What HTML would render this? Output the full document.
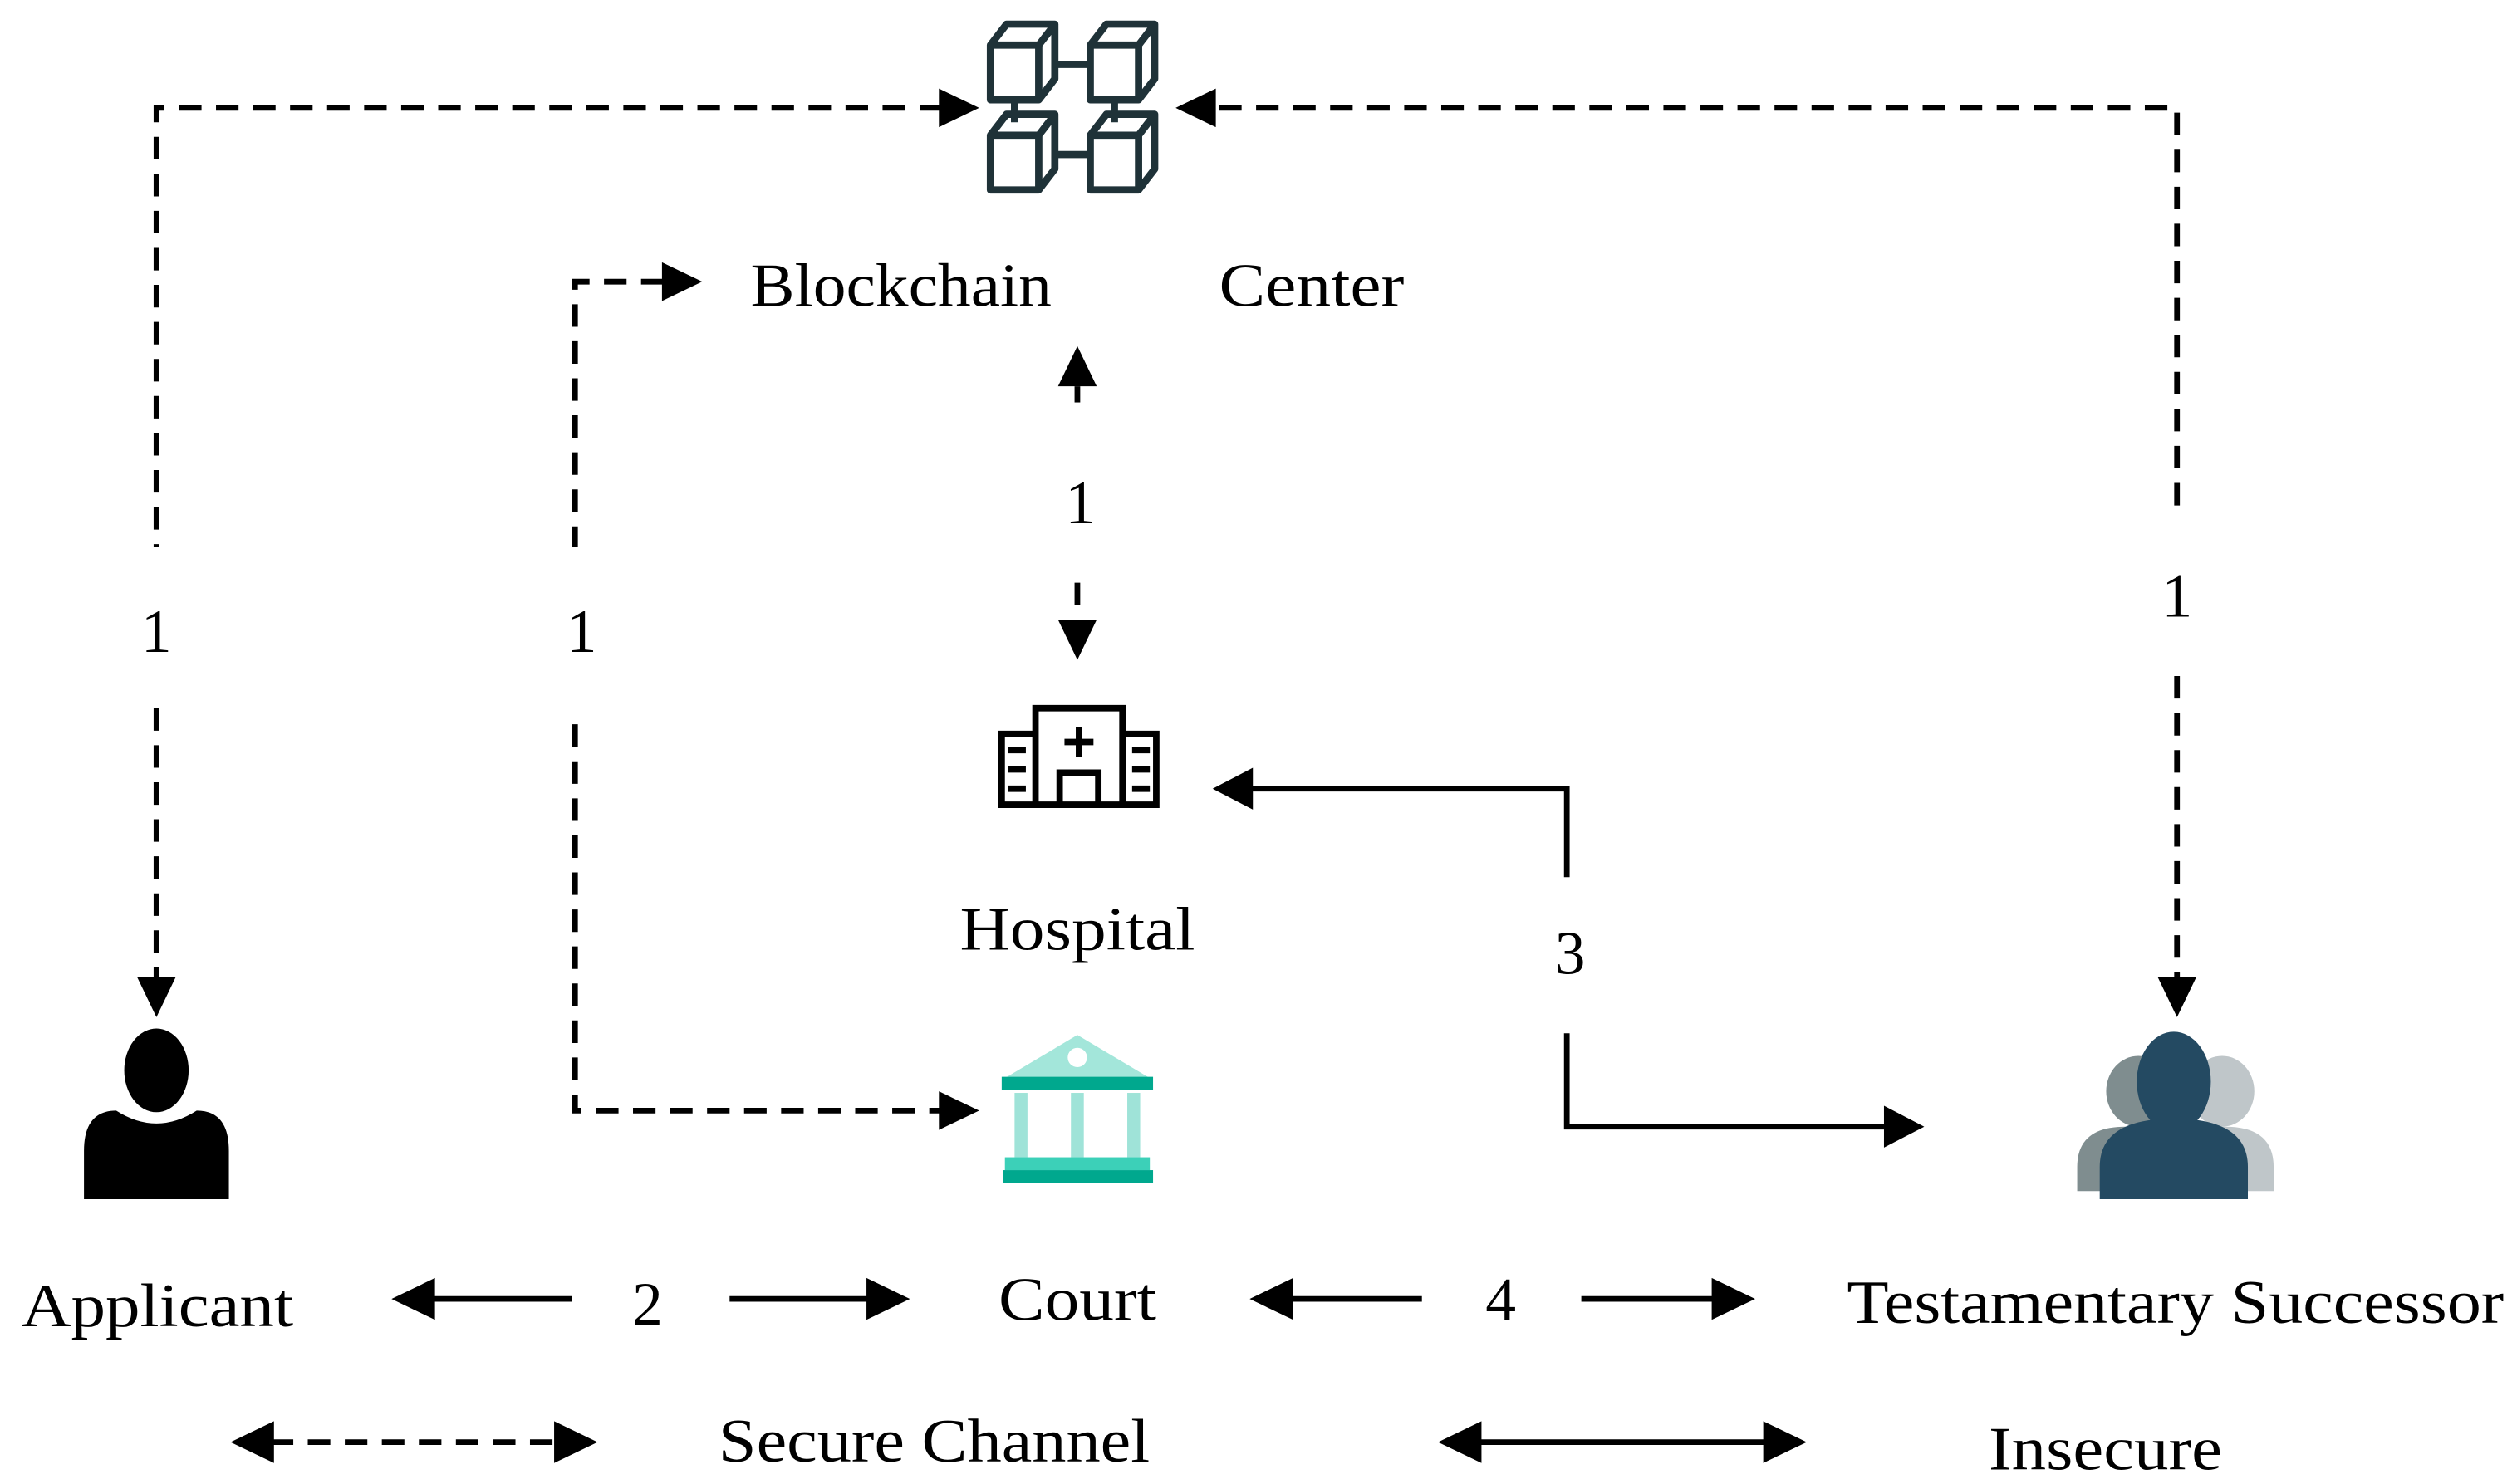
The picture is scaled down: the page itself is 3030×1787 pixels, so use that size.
<!DOCTYPE html>
<html><head><meta charset="utf-8"><style>
html,body{margin:0;padding:0;background:#fff;width:3030px;height:1787px;overflow:hidden}
svg{display:block}
text{font-family:"Liberation Serif",serif;font-size:38px;fill:#000}
</style></head><body>
<svg width="3030" height="1787" viewBox="0 0 1563 922" xmlns="http://www.w3.org/2000/svg">
<g fill="none" stroke="#000" stroke-width="3.5">
<g stroke-dasharray="14,9">
<path d="M585,67H97V340"/>
<path d="M97,440V608"/>
<path d="M757,67H1352V320"/>
<path d="M1352,420V608"/>
<path d="M412,175H357V340"/>
<path d="M357,450V690H585"/>
<path d="M669,250V240"/>
<path d="M669,362V386"/>
<path d="M168,896H346"/>
</g>
<path d="M355,807H268"/><path d="M453,807H540"/>
<path d="M883,807H801"/><path d="M982,807H1065"/>
<path d="M918,896H1097"/>
<path d="M777,490H973V545"/>
<path d="M973,642V700H1170"/>
</g>
<g fill="#000">
<path d="M608,67L583,55V79z"/>
<path d="M730,67L755,55V79z"/>
<path d="M97,632L85,607H109z"/>
<path d="M1352,632L1340,607H1364z"/>
<path d="M436,175L411,163V187z"/>
<path d="M608,690L583,678V702z"/>
<path d="M669,215L657,240H681z"/>
<path d="M669,410L657,385H681z"/>
<path d="M753,490L778,477V503z"/>
<path d="M1195,700L1170,687V713z"/>
<path d="M243,807L270,794V820z"/>
<path d="M565,807L538,794V820z"/>
<path d="M776,807L803,794V820z"/>
<path d="M1090,807L1063,794V820z"/>
<path d="M143,896L170,883V909z"/>
<path d="M371,896L344,883V909z"/>
<path d="M893,896L920,883V909z"/>
<path d="M1122,896L1095,883V909z"/>
</g>
<!-- blockchain icon -->
<g fill="none" stroke="#1f3238" stroke-width="4.5" stroke-linejoin="round">
<path d="M615,28H645V62H615z M615,28L625,15H655V49L645,62 M645,28L655,15"/>
<path d="M677,28H707V62H677z M677,28L687,15H717V49L707,62 M707,28L717,15"/>
<path d="M615,84H645V118H615z M615,84L625,71H655V105L645,118 M645,84L655,71"/>
<path d="M677,84H707V118H677z M677,84L687,71H717V105L707,118 M707,84L717,71"/>
<path d="M655,40H677 M655,96H677 M630,62V76 M692,62V76"/>
</g>
<!-- hospital -->
<g fill="none" stroke="#000" stroke-width="4">
<path d="M643,440H697V500H643z M622,456H643V500H622z M697,456H718V500H697z"/>
<path d="M620,500H719"/>
<path d="M658,500V480H682V500"/>
<path d="M670,452V470M661,461H679"/>
<path d="M626,466H637M626,478H637M626,490H637M703,466H714M703,478H714M703,490H714"/>
</g>
<!-- court -->
<polygon points="669,643 622,671 716,671" fill="#a3e6da"/>
<circle cx="669" cy="657" r="6" fill="#fff"/>
<rect x="622" y="669" width="94" height="8" fill="#00a88e"/>
<rect x="630" y="679" width="8" height="40" fill="#9fe3d8"/>
<rect x="665" y="679" width="8" height="40" fill="#9fe3d8"/>
<rect x="700" y="679" width="8" height="40" fill="#9fe3d8"/>
<rect x="624" y="719" width="90" height="8" fill="#3cd0b8"/>
<rect x="623" y="727" width="93" height="8" fill="#00a88e"/>
<!-- applicant -->
<ellipse cx="97" cy="665" rx="20" ry="26" fill="#000"/>
<path d="M52,745V715Q52,690 72,690Q97,706 122,690Q142,690 142,715V745z" fill="#000"/>
<!-- successor -->
<ellipse cx="1328" cy="678" rx="20" ry="22" fill="#7f8d8f"/>
<path d="M1290,725Q1290,700 1320,700H1336V740H1290z" fill="#7f8d8f"/>
<ellipse cx="1380" cy="678" rx="20" ry="22" fill="#bfc6c9"/>
<path d="M1412,725Q1412,700 1382,700H1366V740H1412z" fill="#bfc6c9"/>
<ellipse cx="1350" cy="672" rx="23" ry="31" fill="#244a62"/>
<path d="M1304,745V725Q1304,695 1350,695Q1396,695 1396,725V745z" fill="#244a62"/>
<text x="466" y="190" textLength="187" lengthAdjust="spacingAndGlyphs">Blockchain</text>
<text x="757" y="190" textLength="115" lengthAdjust="spacingAndGlyphs">Center</text>
<text x="97" y="405" text-anchor="middle">1</text>
<text x="361" y="405" text-anchor="middle">1</text>
<text x="671" y="325" text-anchor="middle">1</text>
<text x="1352" y="383" text-anchor="middle">1</text>
<text x="596" y="590" textLength="146" lengthAdjust="spacingAndGlyphs">Hospital</text>
<text x="975" y="605" text-anchor="middle">3</text>
<text x="13" y="824" textLength="169" lengthAdjust="spacingAndGlyphs">Applicant</text>
<text x="402" y="823" text-anchor="middle">2</text>
<text x="620" y="820" textLength="98" lengthAdjust="spacingAndGlyphs">Court</text>
<text x="932" y="820" text-anchor="middle">4</text>
<text x="1147" y="822" textLength="408" lengthAdjust="spacingAndGlyphs">Testamentary Successor</text>
<text x="446" y="908" textLength="268" lengthAdjust="spacingAndGlyphs">Secure Channel</text>
<text x="1235" y="913" textLength="145" lengthAdjust="spacingAndGlyphs">Insecure</text>
</svg>
</body></html>
